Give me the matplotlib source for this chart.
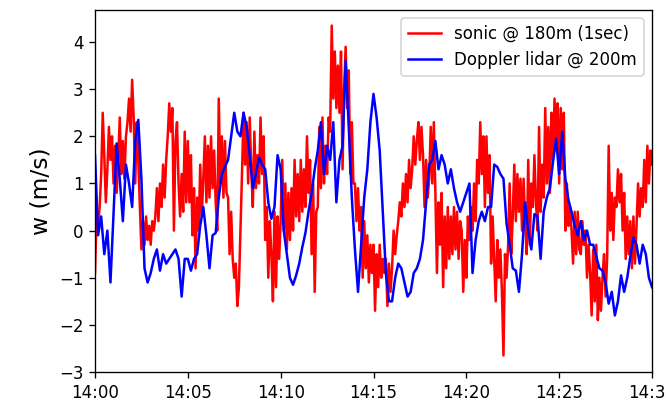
import numpy as np
import pandas as pd
import matplotlib
matplotlib.use('Agg')
import matplotlib.pyplot as plt
import matplotlib.dates as mdates

# sonic @ 180m, one value every 5 s, 14:00 - 14:30
sonic_w = [
    -0.9, 0.3, 0.1, 0.5, 1.2, 2.5, 1.6, 0.6, 1.3, 2.2, 1.5, 2.0,
    1.0, 1.8, 0.8, 1.5, 2.4, 1.2, 1.9, 1.1, 2.0, 2.3, 2.8, 2.1,
    3.2, 2.4, 1.0, 2.3, 1.5, 0.5, -0.4, 0.2, -0.3, 0.3, -0.2, 0.1,
    -0.3, 0.2, 0.0, 0.3, 0.9, 0.2, 1.0, 0.5, 1.4, 0.7, 1.5, 2.0,
    2.7, 2.1, 2.6, 0.0, 1.9, 2.3, 1.0, 0.3, 1.2, 0.4, 2.1, 0.6,
    1.9, 0.6, 1.6, -0.1, 0.9, -0.8, 0.7, 0.0, 1.4, 0.3, 1.1, 2.0,
    0.6, 1.8, 0.7, 2.0, 0.9, 1.7, 0.6, 0.0, 2.8, 1.0, 2.0, 0.7,
    1.9, 0.8, 0.7, -0.5, 0.4, -0.6, -1.0, -0.7, -1.6, -1.2, 0.0, 1.2,
    2.5, 1.4, 2.3, 1.0, 2.4, 1.3, 0.5, 2.1, 0.9, 1.6, 1.0, 2.4,
    1.2, 2.0, -0.2, 0.5, -1.0, 0.2, -0.5, -1.5, 0.4, -1.2, 0.3, -0.6,
    0.2, 1.5, 0.0, 1.0, -0.4, 0.8, -0.2, 0.9, 0.0, 1.5, 0.3, 1.2,
    0.2, 1.5, 0.4, 1.3, 0.5, 2.0, 0.8, 1.5, -0.5, 1.0, -1.3, 0.4,
    0.5, 2.2, 0.9, 2.4, 1.0, 1.8, 1.2, 2.4, 2.1, 4.35, 2.8, 3.8,
    2.6, 3.5, 2.5, 3.8, 1.3, 3.0, 3.9, 2.6, 3.4, 1.2, 2.3, 1.0,
    1.0, 0.2, 0.9, 0.0, 0.5, -1.0, 0.2, -0.8, -0.1, -1.1, -0.3, -0.9,
    -0.3, -1.7, -0.5, -1.2, -0.3, -1.0, -0.6, -0.9, -0.6, -1.6, -0.7, -1.3,
    -0.8, 0.0, -0.5, -0.1, 0.2, 0.6, 0.3, 1.0, 0.5, 1.2, 0.6, 1.5,
    0.9, 1.3, 2.0, 1.4, 1.9, 2.3, 1.5, 2.2, 1.6, 0.5, 1.5, 0.7,
    1.1, 2.2, 1.0, 2.3, 0.8, -0.9, 0.6, -0.3, 0.8, -1.2, 0.3, -0.8,
    0.5, -0.6, 0.3, -0.5, 0.5, -0.4, 0.4, -0.6, 0.2, 0.0, -1.3, -0.2,
    -1.0, 0.3, -0.2, 0.5, 0.0, 1.0, 0.2, 1.5, 1.0, 2.3, 1.2, 2.0,
    0.5, 2.0, 0.8, 1.6, -0.7, 0.3, -0.6, -1.5, -0.2, -1.0, -0.4, -1.3,
    -2.65, -0.5, -1.0, -0.3, 1.0, -0.5, 0.3, 1.4, 0.2, 1.2, 0.4, 1.1,
    0.0, 1.1, 0.2, -0.5, 1.5, -0.3, 1.0, 0.5, 1.6, 0.6, 0.0, 2.2,
    0.4, 1.4, 0.7, 2.6, 1.0, 2.2, 0.8, 2.5, 1.5, 2.8, 1.8, 2.7,
    1.0, 2.6, 1.3, 2.5, 0.0, 1.0, 0.1, 0.5, 0.0, -0.7, 0.4, -0.5,
    0.4, -0.4, -0.5, 0.2, -0.3, 0.0, -1.0, -0.3, -0.9, -1.8, -0.4, -1.5,
    -0.3, -1.9, -1.0, -1.7, -1.0, -0.5, -1.4, -0.6, 1.8, 0.0, 0.8, -0.2,
    0.7, 0.5, 1.3, 0.6, 1.2, 0.0, 0.8, -0.6, 0.3, -0.5, 0.2, -0.8,
    0.3, -0.7, 0.1, 1.0, 0.3, 0.9, 0.5, 1.5, 0.6, 1.8, 1.0, 1.7,
    1.4,
]

# Doppler lidar @ 200m, one value every 10 s
lidar_w = [
    1.6, -0.1, 0.3, -0.5, 0.0, -1.1, 0.4, 1.85, 1.1, 0.2, 1.4, 1.0,
    0.5, 1.9, 2.35, 1.1, -0.8, -1.1, -0.9, -0.6, -0.4, -0.85, -0.5, -0.7,
    -0.6, -0.5, -0.4, -0.6, -1.4, -0.6, -0.6,
    -0.85, -0.6, -0.5, 0.1, 0.5, -0.1, -0.8, -0.1, -0.05, 0.7, 1.2, 1.35,
    1.5, 2.0, 2.5, 2.1, 2.0, 2.5, 2.2, 1.6, 0.9, 1.2, 1.55, 1.4,
    1.3, 0.6, 0.25, 0.5, 1.6, 1.3,
    0.0, -0.5, -1.0, -1.15, -0.95, -0.7, -0.35, -0.05, 0.4, 0.8, 1.3, 1.7,
    2.3, 1.2, 1.8, 1.5, 2.3, 0.6, 1.5, 1.8, 3.6, 2.2, 0.7, -0.4,
    -1.3, -0.3, 0.7, 1.3, 2.3, 2.9,
    2.4, 1.7, 0.4, -0.9, -1.5, -1.5, -1.0, -0.7, -0.8, -1.1, -1.4, -1.3,
    -0.9, -0.8, -0.6, -0.2, 0.6, 1.4, 1.5, 1.9, 1.3, 1.6, 1.4, 1.0,
    1.3, 0.9, 0.6, 0.4, 0.6, 0.8,
    1.0, -0.9, -0.2, 0.2, 0.4, 0.2, 0.5, 0.5, 1.4, 1.35, 1.2, 1.1,
    0.15, -0.3, -0.8, -0.85, -1.3, -0.5, 0.6, 0.0, -0.4, 0.35, 0.3, -0.6,
    0.4, 0.7, 0.9, 1.45, 1.95, 1.2,
    2.1, 1.1, 0.65, 0.4, 0.1, -0.1, 0.2, -0.2, 0.0, -0.3, -0.3, -0.55,
    -0.8, -0.85, -1.1, -1.55, -1.3, -1.8, -1.5, -0.95, -1.3, -1.0, -0.55, -0.15,
    -0.3, -0.7, -0.3, -0.5, -1.0, -1.2,
]

t_sonic = pd.date_range('2000-01-01 14:00', periods=len(sonic_w), freq='5s')
t_lidar = pd.date_range('2000-01-01 14:00', periods=len(lidar_w), freq='10s')

DPI = 120
fig = plt.figure(figsize=(666 / DPI, 400 / DPI), dpi=DPI)
ax = fig.add_axes([95 / 666, 28 / 400, 557 / 666, 362 / 400])

ax.plot(t_sonic, sonic_w, color='red', lw=1.5, label='sonic @ 180m (1sec)')
ax.plot(t_lidar, lidar_w, color='blue', lw=1.5, label='Doppler lidar @ 200m')

ax.set_xlim(pd.Timestamp('2000-01-01 14:00'), pd.Timestamp('2000-01-01 14:30'))
ax.set_ylim(-3, 4.68)
ax.set_yticks(range(-3, 5))
ax.xaxis.set_major_locator(mdates.MinuteLocator(byminute=range(0, 60, 5)))
ax.xaxis.set_major_formatter(mdates.DateFormatter('%H:%M'))
ax.set_ylabel('w (m/s)', fontsize=14)
ax.legend(loc='upper right')

fig.savefig('out.png', dpi=DPI)
